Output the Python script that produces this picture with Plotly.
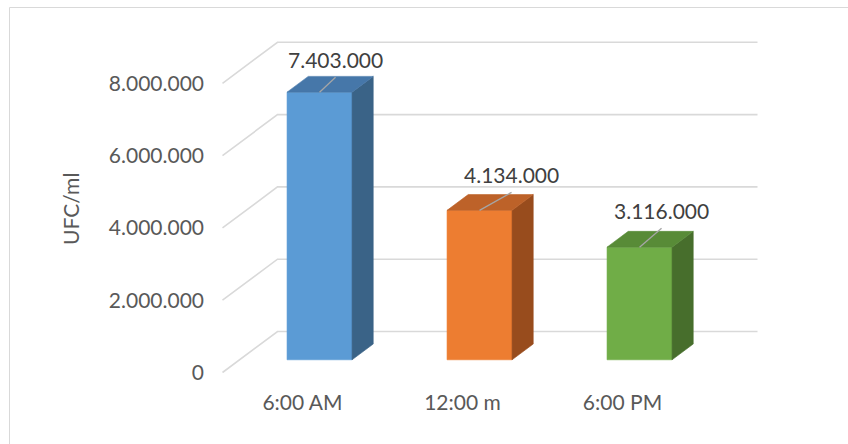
import plotly.graph_objects as go

# Data
categories = ["6:00 AM", "12:00 m", "6:00 PM"]
ufc_values = [7403000, 4134000, 3116000]
y_ticks = [0, 2000000, 4000000, 6000000, 8000000]
y_tick_labels = ["0", "2.000.000", "4.000.000", "6.000.000", "8.000.000"]

# Colours per bar: front, top, side faces
front_colors = ["#5b9bd5", "#ed7d31", "#70ad47"]
top_colors = ["#4677a9", "#bd6229", "#588b37"]
side_colors = ["#3a6387", "#984c1d", "#476e2c"]

# Layout in pixels
W, H = 848, 444
L, R, T, B = 205, 820, 20, 388
PX_PER_CAT = 160.0          # horizontal pixels per category
PX_PER_UNIT = 36.15 / 1e6   # vertical pixels per UFC/ml
X0_PX = 302.5               # pixel x of category 0 at the front of the floor
Y0_PX = 372.5               # pixel y of value 0 at the front of the floor

x_range = [(L - X0_PX) / PX_PER_CAT, (R - X0_PX) / PX_PER_CAT]
y_range = [(Y0_PX - B) / PX_PER_UNIT, (Y0_PX - T) / PX_PER_UNIT]

# Oblique depth projection (full floor depth)
DEPTH_X = 55 / PX_PER_CAT
DEPTH_Y = 41 / PX_PER_UNIT
FLOOR = (-0.5, 2.5)
BAR_HALF = 32.5 / PX_PER_CAT
D_FRONT, D_BACK = 0.31, 0.695


def proj(x, v, d):
    return x + d * DEPTH_X, v + d * DEPTH_Y


def poly(points):
    xs, ys = zip(*[proj(*p) for p in points])
    return list(xs) + [xs[0]], list(ys) + [ys[0]]


fig = go.Figure()
grid_style = dict(color="#d9d9d9", width=1.6)

# Back wall gridlines and the diagonal floor/side lines
for v in y_ticks:
    xa, ya = proj(FLOOR[0], v, 0)
    xb, yb = proj(FLOOR[0], v, 1)
    xc, yc = proj(FLOOR[1], v, 1)
    fig.add_trace(go.Scatter(x=[xa, xb, xc], y=[ya, yb, yc], mode="lines",
                             line=grid_style, hoverinfo="skip", showlegend=False))

# 3D bars
for i, v in enumerate(ufc_values):
    l, r = i - BAR_HALF, i + BAR_HALF
    faces = [
        ([(l, 0, D_FRONT), (r, 0, D_FRONT), (r, v, D_FRONT), (l, v, D_FRONT)], front_colors[i]),
        ([(r, 0, D_FRONT), (r, 0, D_BACK), (r, v, D_BACK), (r, v, D_FRONT)], side_colors[i]),
        ([(l, v, D_FRONT), (r, v, D_FRONT), (r, v, D_BACK), (l, v, D_BACK)], top_colors[i]),
    ]
    for pts, col in faces:
        xs, ys = poly(pts)
        fig.add_trace(go.Scatter(x=xs, y=ys, mode="lines", fill="toself",
                                 fillcolor=col, line=dict(color=col, width=0.6),
                                 hoverinfo="skip", showlegend=False))

# Value labels with leader lines
label_dx = [16, 32, 22]
label_dy = [15, 18, 19]
annotations = []
for i, v in enumerate(ufc_values):
    sx, sy = proj(i, v, D_FRONT)
    ex = sx + label_dx[i] / PX_PER_CAT
    ey = sy + label_dy[i] / PX_PER_UNIT
    fig.add_trace(go.Scatter(x=[sx, ex], y=[sy, ey], mode="lines",
                             line=dict(color="#a6a6a6", width=1.3),
                             hoverinfo="skip", showlegend=False))
    text = f"{v:,}".replace(",", ".")
    annotations.append(dict(x=ex, y=ey + 18 / PX_PER_UNIT, xref="x", yref="y",
                            text=text, showarrow=False, xanchor="center",
                            yanchor="middle",
                            font=dict(family="Lato", size=21, color="#404040")))

# Axis title
annotations.append(dict(x=(70 - L) / (R - L), y=(B - 209) / (B - T),
                        xref="paper", yref="paper", text="UFC/ml", textangle=-90,
                        showarrow=False, xanchor="center", yanchor="middle",
                        font=dict(family="Lato", size=21, color="#595959")))

fig.update_layout(
    width=W, height=H, autosize=False,
    margin=dict(l=L, r=W - R, t=T, b=H - B, pad=0),
    paper_bgcolor="white", plot_bgcolor="white",
    font=dict(family="Lato", size=21, color="#595959"),
    xaxis=dict(range=x_range, tickvals=[0, 1, 2], ticktext=categories,
               showgrid=False, zeroline=False, showline=False, ticks="",
               fixedrange=True),
    yaxis=dict(range=y_range, tickvals=y_ticks, ticktext=y_tick_labels,
               showgrid=False, zeroline=False, showline=False, ticks="",
               fixedrange=True),
    annotations=annotations,
    shapes=[dict(type="rect", xref="paper", yref="paper",
                 x0=(9.5 - L) / (R - L), x1=(870 - L) / (R - L),
                 y0=(B - 470) / (B - T), y1=(B - 7.5) / (B - T),
                 line=dict(color="#d9d9d9", width=1), fillcolor="rgba(0,0,0,0)",
                 layer="below")],
)

fig.write_html("out.html")
